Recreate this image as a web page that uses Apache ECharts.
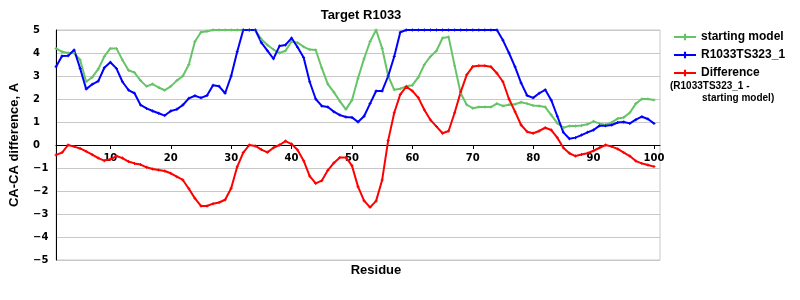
<!DOCTYPE html>
<html>
<head>
<meta charset="utf-8">
<script src="https://cdn.jsdelivr.net/npm/echarts@6/dist/echarts.min.js"></script>
<style>html,body{margin:0;padding:0;background:#fff}#c{width:800px;height:300px}</style>
</head>
<body>
<div id="c"></div>
<script>
var titleText = 'Target R1033';
var yAxisName = 'CA-CA difference, A';
var xAxisName = 'Residue';
var seriesNames = ['starting model', 'R1033TS323_1', 'Difference'];
var diffNote1 = '(R1033TS323_1 -';
var diffNote2 = 'starting model)';
var xTicks = [10, 20, 30, 40, 50, 60, 70, 80, 90, 100];
var yTicks = [-5, -4, -3, -2, -1, 0, 1, 2, 3, 4, 5];

var startingModel = [
  4.2,4.05,4.0,4.0,3.7,2.75,2.95,3.3,3.85,4.2,
  4.2,3.7,3.25,3.15,2.8,2.55,2.65,2.5,2.38,2.55,
  2.8,3.0,3.5,4.5,4.9,4.95,5,5,5,5,
  5,5,5,5,4.6,4.35,4.15,4.0,4.1,4.5,
  4.45,4.27,4.15,4.13,3.35,2.65,2.3,1.9,1.55,1.95,
  2.9,3.75,4.5,5.0,4.2,3.0,2.4,2.45,2.55,2.6,
  2.95,3.5,3.85,4.1,4.65,4.7,3.45,2.25,1.75,1.6,
  1.65,1.65,1.65,1.8,1.7,1.75,1.77,1.86,1.8,1.72,
  1.7,1.65,1.3,0.95,0.75,0.83,0.83,0.85,0.9,1.03,
  0.93,0.88,0.98,1.15,1.2,1.4,1.8,2.0,2.0,1.96
];
var model323 = [
  3.4,3.87,3.88,4.13,3.33,2.43,2.64,2.78,3.36,3.6,
  3.33,2.75,2.39,2.25,1.74,1.59,1.48,1.38,1.28,1.48,
  1.55,1.74,2.03,2.14,2.05,2.15,2.6,2.55,2.25,3.0,
  4.05,5,5,5,4.45,4.1,3.75,4.3,4.35,4.65,
  4.25,3.8,2.75,2.0,1.7,1.65,1.45,1.3,1.22,1.2,
  1.0,1.25,1.8,2.35,2.35,3.0,3.85,4.9,5,5,
  5,5,5,5,5,5,5,5,5,5,
  5,5,5,5,4.55,4.0,3.4,2.7,2.15,2.05,
  2.25,2.4,1.95,1.25,0.55,0.27,0.32,0.43,0.55,0.65,
  0.84,0.84,0.87,0.98,1.0,0.94,1.1,1.23,1.13,0.94
];
var difference = [
  -0.43,-0.33,0.0,-0.07,-0.15,-0.28,-0.42,-0.57,-0.68,-0.62,
  -0.48,-0.57,-0.72,-0.8,-0.85,-0.97,-1.04,-1.09,-1.13,-1.23,
  -1.38,-1.52,-1.9,-2.32,-2.65,-2.65,-2.55,-2.5,-2.38,-1.88,
  -0.95,-0.33,0.0,-0.04,-0.2,-0.32,-0.12,0.0,0.17,0.04,
  -0.22,-0.68,-1.35,-1.67,-1.55,-1.1,-0.78,-0.54,-0.54,-0.9,
  -1.81,-2.42,-2.71,-2.43,-1.52,0.2,1.4,2.2,2.54,2.35,
  2.05,1.52,1.09,0.8,0.51,0.61,1.4,2.3,3.05,3.41,
  3.45,3.45,3.4,3.12,2.75,2.0,1.45,0.87,0.58,0.51,
  0.61,0.75,0.65,0.32,-0.12,-0.36,-0.48,-0.41,-0.36,-0.25,
  -0.12,0.0,-0.07,-0.17,-0.33,-0.48,-0.7,-0.8,-0.87,-0.94
];
var residues = startingModel.map(function (v, i) { return i + 1; });

function pairs(vals) { return vals.map(function (v, i) { return [residues[i], v]; }); }

var plusSymbol = 'path://M1,0H2V1H3V2H2V3H1V2H0V1H1Z';
var tickFont = 'DejaVu Sans';
var textFont = 'Liberation Sans';

function mkSeries(name, vals, color) {
  return {
    name: name, type: 'line', data: pairs(vals),
    symbol: plusSymbol, symbolSize: 3, showSymbol: true,
    itemStyle: { color: color },
    lineStyle: { color: color, width: 2 },
    animation: false
  };
}

var chart = echarts.init(document.getElementById('c'));
chart.setOption({
  backgroundColor: '#fff',
  animation: false,
  grid: { left: 50, right: 140, top: 30, bottom: 40, show: true, borderColor: '#c8c8c8', borderWidth: 1 },
  legend: {
    data: seriesNames, orient: 'vertical', left: 668, top: 26,
    itemWidth: 22, itemHeight: 8, itemGap: 6,
    textStyle: { fontFamily: textFont, fontWeight: 'bold', fontSize: 12, color: '#000' }
  },
  xAxis: {
    type: 'value', min: 1, max: 101, position: 'bottom', offset: -115,
    axisLine: { onZero: false, lineStyle: { color: '#000', width: 1 } },
    axisTick: { show: true, length: 4, customValues: xTicks, lineStyle: { color: '#000' } },
    axisLabel: { customValues: xTicks, margin: 8, fontFamily: tickFont, fontWeight: 'bold', fontSize: 10, color: '#000' },
    splitLine: { show: false }
  },
  yAxis: {
    type: 'value', min: yTicks[0], max: yTicks[yTicks.length - 1], interval: 1,
    name: yAxisName, nameLocation: 'middle', nameGap: 35, nameRotate: 90,
    nameTextStyle: { fontFamily: textFont, fontWeight: 'bold', fontSize: 13, color: '#000' },
    axisLine: { show: true, onZero: false, lineStyle: { color: '#000', width: 1 } },
    axisTick: { show: false },
    axisLabel: {
      align: 'left', margin: 23, fontFamily: tickFont, fontWeight: 'bold', fontSize: 10, color: '#000',
      formatter: function (v) { return String(v).replace('-', '\u2212'); }
    },
    splitLine: { show: true, lineStyle: { color: '#c8c8c8', width: 1 } }
  },
  graphic: [
    { type: 'text', x: 361, y: 15, style: { text: titleText, align: 'center', verticalAlign: 'middle', fontFamily: textFont, fontWeight: 'bold', fontSize: 13, fill: '#000' } },
    { type: 'text', x: 376, y: 270, style: { text: xAxisName, align: 'center', verticalAlign: 'middle', fontFamily: textFont, fontWeight: 'bold', fontSize: 13, fill: '#000' } },
    { type: 'text', x: 670, y: 86, style: { text: diffNote1, align: 'left', verticalAlign: 'middle', fontFamily: textFont, fontWeight: 'bold', fontSize: 10, fill: '#000' } },
    { type: 'text', x: 702, y: 98, style: { text: diffNote2, align: 'left', verticalAlign: 'middle', fontFamily: textFont, fontWeight: 'bold', fontSize: 10, fill: '#000' } }
  ],
  series: [
    mkSeries(seriesNames[0], startingModel, '#66c466'),
    mkSeries(seriesNames[1], model323, '#0000ff'),
    mkSeries(seriesNames[2], difference, '#ff0000')
  ]
});
</script>
</body>
</html>
